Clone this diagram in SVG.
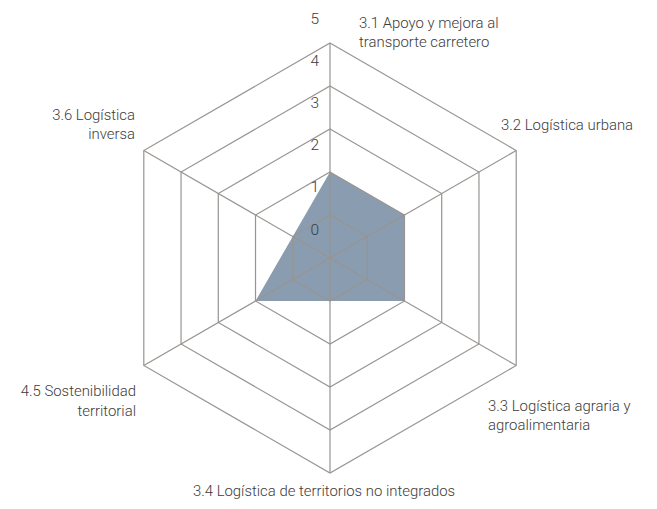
<svg xmlns="http://www.w3.org/2000/svg" width="657" height="509" viewBox="0 0 657 509">
<style>
.ring{fill:none;stroke:#989490;stroke-width:1.2}
.spoke{stroke:#989490;stroke-width:1.2}
.lbl{font-family:Roboto,"Liberation Sans",sans-serif;font-weight:300;font-size:14.9px;fill:#3c3c3c}
.num{font-family:Roboto,"Liberation Sans",sans-serif;font-weight:300;font-size:15.5px;fill:#3c3c3c;text-anchor:end}
</style>
<rect width="657" height="509" fill="#ffffff"/>
<g id="data">
<polygon points="330,172 404.48,215 404.48,301 330,301 255.52,301 292.76,236.5" fill="#8a9cb0"/>
</g>
<g id="grid">
<polygon class="ring" points="330,215 367.24,236.5 367.24,279.5 330,301 292.76,279.5 292.76,236.5"/>
<polygon class="ring" points="330,172 404.48,215 404.48,301 330,344 255.52,301 255.52,215"/>
<polygon class="ring" points="330,129 441.72,193.5 441.72,322.5 330,387 218.28,322.5 218.28,193.5"/>
<polygon class="ring" points="330,86 478.96,172 478.96,344 330,430 181.04,344 181.04,172"/>
<polygon class="ring" points="330,43 516.2,150.5 516.2,365.5 330,473 143.8,365.5 143.8,150.5"/>
</g>
<g id="connectors">
<line class="spoke" x1="330" y1="258" x2="330" y2="43"/>
<line class="spoke" x1="330" y1="258" x2="516.2" y2="150.5"/>
<line class="spoke" x1="330" y1="258" x2="516.2" y2="365.5"/>
<line class="spoke" x1="330" y1="258" x2="330" y2="473"/>
<line class="spoke" x1="330" y1="258" x2="143.8" y2="365.5"/>
<line class="spoke" x1="330" y1="258" x2="143.8" y2="150.5"/>
</g>
<g id="scale">
<text class="num" x="319" y="235">0</text>
<text class="num" x="319" y="192">1</text>
<text class="num" x="319" y="150">2</text>
<text class="num" x="319" y="108">3</text>
<text class="num" x="319" y="66">4</text>
<text class="num" x="319" y="24">5</text>
</g>
<g id="axis-3-1"><text class="lbl" x="359" y="28">3.1 Apoyo y mejora al</text><text class="lbl" x="359" y="47">transporte carretero</text></g>
<g id="axis-3-2"><text class="lbl" x="501" y="130">3.2 Logística urbana</text></g>
<g id="axis-3-3"><text class="lbl" x="488" y="411">3.3 Logística agraria y</text><text class="lbl" x="488" y="430">agroalimentaria</text></g>
<g id="axis-3-4"><text class="lbl" x="324" y="496" text-anchor="middle">3.4 Logística de territorios no integrados</text></g>
<g id="axis-4-5"><text class="lbl" x="136" y="396" text-anchor="end">4.5 Sostenibilidad</text><text class="lbl" x="136" y="416" text-anchor="end">territorial</text></g>
<g id="axis-3-6"><text class="lbl" x="135" y="120" text-anchor="end">3.6 Logística</text><text class="lbl" x="135" y="139" text-anchor="end">inversa</text></g>
</svg>
